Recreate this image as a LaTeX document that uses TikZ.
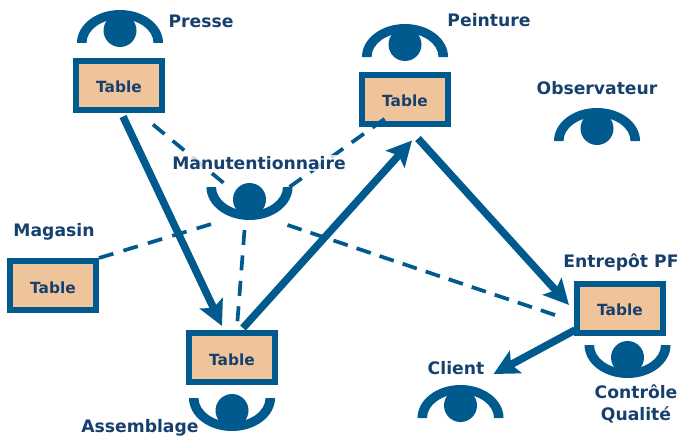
\documentclass[tikz,border=0pt]{standalone}
\usepackage{fontspec}
\setmainfont{DejaVu Sans}
\usetikzlibrary{arrows.meta}
\definecolor{flowblue}{HTML}{005A8E}
\definecolor{labelblue}{HTML}{17406D}
\definecolor{boxfill}{HTML}{F0C49A}
\newcommand{\tablelabel}{\smash{\raisebox{-7.5pt}{Table}}}
\tikzset{
  tablebox/.style={draw=flowblue,fill=boxfill,line width=6pt,minimum width=86pt,minimum height=49pt,inner sep=0pt,
    text=labelblue,font=\fontsize{15.4}{18}\selectfont\bfseries},
  caption/.style={text=labelblue,font=\fontsize{17.2}{22}\selectfont\bfseries,inner sep=0pt,align=center},
  flow/.style={draw=flowblue,line width=7.5pt,-{Stealth[length=25pt,width=25pt,inset=5pt]}},
  link/.style={draw=flowblue,line width=3.7pt,dash pattern=on 15pt off 10.5pt},
  eyepic/.pic={
    \fill[flowblue,even odd rule] (-43pt,0pt) arc[start angle=180,end angle=0,x radius=43pt,y radius=33pt]
      -- (33.5pt,0pt) arc[start angle=0,end angle=180,x radius=33.5pt,y radius=24pt] -- cycle;
    \fill[flowblue] (0pt,12.5pt) circle[radius=16.5pt];
  },
}
\begin{document}
\begin{tikzpicture}[x=1pt,y=-1pt]
\useasboundingbox (0,0) rectangle (679,436);
% observers
\coordinate (presseEye) at (120,43);
\coordinate (peintureEye) at (405,57);
\coordinate (obsEye) at (597,141);
\coordinate (clientEye) at (460.5,418);
\coordinate (manuEye) at (249.5,187);
\coordinate (assEye) at (232,398);
\coordinate (qualEye) at (627.5,345);
\pic at (presseEye) {eyepic};
\pic at (peintureEye) {eyepic};
\pic at (obsEye) {eyepic};
\pic at (clientEye) {eyepic};
\pic[yscale=-1] at (manuEye) {eyepic};
\pic[yscale=-1] at (assEye) {eyepic};
\pic[yscale=-1] at (qualEye) {eyepic};
% tables
\node[tablebox] (presse) at (119,85) {\tablelabel};
\node[tablebox] (peinture) at (405,99) {\tablelabel};
\node[tablebox] (magasin) at (53,285.5) {\tablelabel};
\node[tablebox] (assemblage) at (232,357.5) {\tablelabel};
\node[tablebox] (entrepot) at (620,308) {\tablelabel};
% dashed links
\draw[link] ([shift={(34,12)}]presse.south) -- ([shift={(-21,0)}]manuEye);
\draw[link] ([shift={(40,0)}]manuEye) -- ([shift={(-17,-10)}]peinture.south);
\draw[link] (magasin.north east) -- ([shift={(-38,37)}]manuEye);
\draw[link] ([shift={(-5,43)}]manuEye) -- ([shift={(5,-3)}]assemblage.north);
\draw[link,dash pattern=on 15pt off 9.3pt] ([shift={(-19,7)}]entrepot.west) -- ([shift={(38,38)}]manuEye);
% label over the links
\node[caption,fill=white,fill opacity=.8,text opacity=1,inner xsep=1pt,inner ysep=1pt] (manuLabel) at (259,163) {Manutentionnaire};
% flows
\draw[flow] ([shift={(4,4)}]presse.south) -- ([shift={(-10,-4)}]assemblage.north);
\draw[flow] ([shift={(11,-2)}]assemblage.north) -- ([shift={(7,14)}]peinture.south);
\draw[flow] ([shift={(13,12)}]peinture.south) -- ([shift={(-5,-3)}]entrepot.west);
\draw[flow] ([shift={(1,22)}]entrepot.west) -- ([shift={(33,-44)}]clientEye);
% captions
\node[caption] (presseLabel) at (201,21) {Presse};
\node[caption] (peintureLabel) at (489,20) {Peinture};
\node[caption] (obsLabel) at (597,88) {Observateur};
\node[caption] (magasinLabel) at (54,232) {Magasin};
\node[caption] (entrepotLabel) at (621,262) {Entrepôt PF};
\node[caption] (clientLabel) at (456,368) {Client};
\node[caption] (qualLabel) at (636,404) {Contrôle\\Qualité};
\node[caption] (assLabel) at (140,428) {Assemblage};
\end{tikzpicture}
\end{document}
